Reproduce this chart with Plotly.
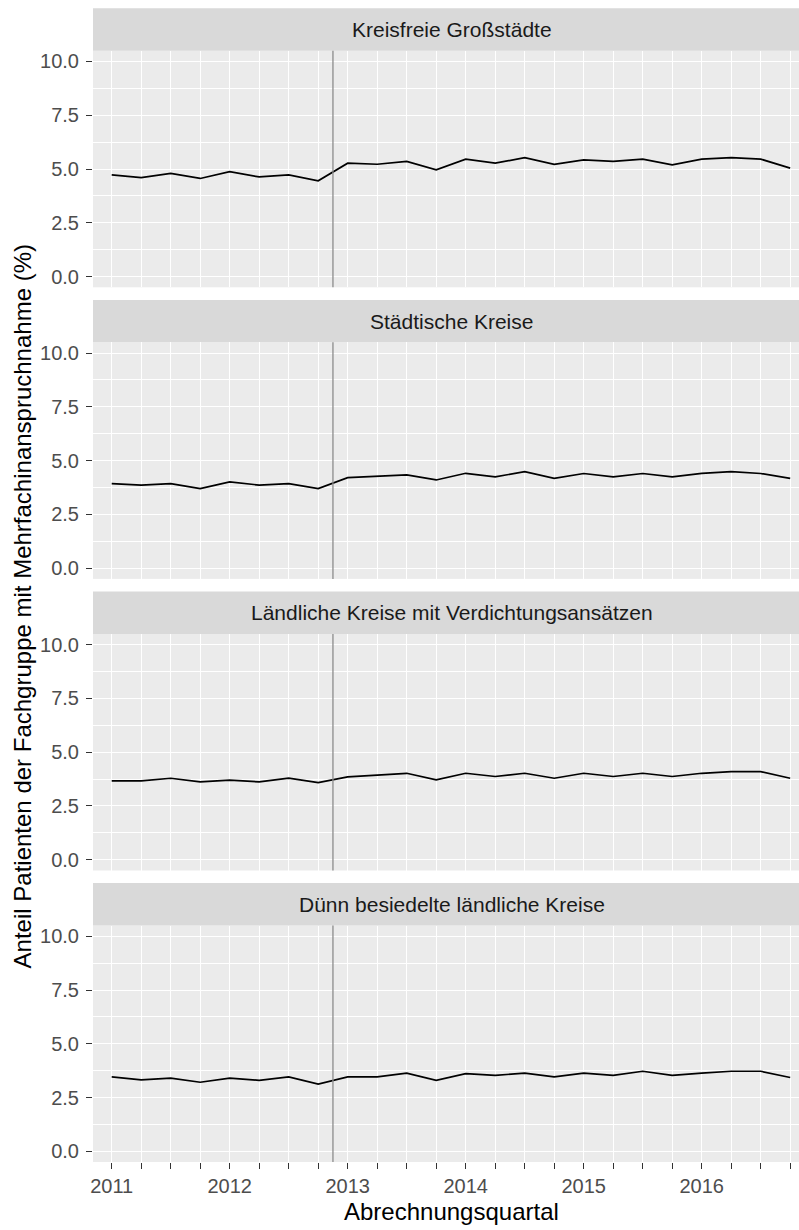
import plotly.graph_objects as go

# ---------------- data ----------------
panel_titles = [
    "Kreisfreie Großstädte",
    "Städtische Kreise",
    "Ländliche Kreise mit Verdichtungsansätzen",
    "Dünn besiedelte ländliche Kreise",
]

quarters = [f"{y}-Q{q}" for y in range(2011, 2017) for q in range(1, 5)]

kreisfreie_grossstaedte = [4.73, 4.60, 4.80, 4.56, 4.88, 4.63, 4.73, 4.45,
                           5.27, 5.22, 5.35, 4.96, 5.46, 5.27, 5.53, 5.22,
                           5.42, 5.35, 5.46, 5.19, 5.46, 5.53, 5.46, 5.04]
staedtische_kreise = [3.93, 3.86, 3.93, 3.70, 4.01, 3.86, 3.93, 3.70,
                      4.21, 4.26, 4.34, 4.10, 4.41, 4.24, 4.49, 4.17,
                      4.40, 4.24, 4.40, 4.24, 4.41, 4.49, 4.40, 4.17]
laendliche_verdichtung = [3.67, 3.67, 3.79, 3.62, 3.70, 3.62, 3.79, 3.59,
                          3.85, 3.94, 4.02, 3.71, 4.02, 3.87, 4.02, 3.79,
                          4.02, 3.87, 4.02, 3.87, 4.02, 4.10, 4.10, 3.79]
duenn_besiedelt = [3.46, 3.32, 3.40, 3.21, 3.40, 3.30, 3.46, 3.12,
                   3.46, 3.46, 3.63, 3.30, 3.61, 3.53, 3.63, 3.46,
                   3.63, 3.53, 3.72, 3.53, 3.63, 3.72, 3.72, 3.43]

series = [kreisfreie_grossstaedte, staedtische_kreise,
          laendliche_verdichtung, duenn_besiedelt]

x_tick_labels = [q.split("-")[0] if q.endswith("Q1") else "" for q in quarters]
y_tick_vals = [0, 2.5, 5, 7.5, 10]
reform_date = 2012.875  # vertical reference line (between 2012-Q4 and 2013-Q1)

y_title = "Anteil Patienten der Fachgruppe mit Mehrfachinanspruchnahme (%)"
x_title = "Abrechnungsquartal"


def qpos(label):
    y, q = label.split("-Q")
    return int(y) + (int(q) - 1) / 4


x_vals = [qpos(q) for q in quarters]

# ---------------- layout geometry (pixels) ----------------
W, H = 799, 1230
ML, MR, MT, MB = 93, 0, 0, 68
PW, PH = W - ML - MR, H - MT - MB
PERIOD = 291.6
STRIP_TOP, PLOT_TOP, PLOT_BOT = 8.3, 50.7, 287.3

FONT = "Liberation Sans, Arial, sans-serif"


def fy(px):
    return min(1.0, max(0.0, 1 - px / PH))


fig = go.Figure()
layout = dict(
    width=W, height=H,
    margin=dict(l=ML, r=MR, t=MT, b=MB, pad=0),
    paper_bgcolor="white", plot_bgcolor="#EBEBEB",
    showlegend=False,
    font=dict(family=FONT, color="#4D4D4D"),
)
shapes, annotations = [], []

x_range = [2011 - (111.7 - ML) / 118.0, 2011 + (W - 111.7) / 118.0]

for k in range(4):
    sfx = "" if k == 0 else str(k + 1)
    top = PLOT_TOP + k * PERIOD
    bot = PLOT_BOT + k * PERIOD
    fig.add_trace(go.Scatter(
        x=x_vals, y=series[k], mode="lines",
        line=dict(color="#000000", width=1.7),
        xaxis="x" + sfx, yaxis="y" + sfx, hoverinfo="skip",
    ))
    last = k == 3
    layout["xaxis" + sfx] = dict(
        domain=[0, 1], anchor="y" + sfx, range=x_range,
        tickmode="array", tickvals=x_vals,
        ticktext=x_tick_labels if last else [""] * len(x_vals),
        showticklabels=last,
        ticks="outside" if last else "", ticklen=6, tickwidth=1.3, tickcolor="#333333",
        showgrid=True, gridcolor="white", gridwidth=1.4,
        zeroline=False, showline=False,
        tickfont=dict(size=20, color="#4D4D4D", family=FONT),
    )
    layout["yaxis" + sfx] = dict(
        domain=[fy(bot), fy(top)], anchor="x" + sfx, range=[-0.5, 10.5],
        tickmode="array", tickvals=y_tick_vals, tickformat=".1f",
        ticks="outside", ticklen=6, tickwidth=1.3, tickcolor="#333333",
        ticklabelstandoff=3,
        showgrid=True, gridcolor="white", gridwidth=1.4,
        minor=dict(tickvals=[1.25, 3.75, 6.25, 8.75], showgrid=True,
                   gridcolor="white", gridwidth=1.0, ticks=""),
        zeroline=False, showline=False,
        tickfont=dict(size=20, color="#4D4D4D", family=FONT),
    )
    # vertical reference line
    shapes.append(dict(type="line", xref="x" + sfx, yref="y" + sfx + " domain",
                       x0=reform_date, x1=reform_date, y0=0, y1=1,
                       line=dict(color="#8C8C8C", width=1.3), layer="above"))
    # strip
    s_top = STRIP_TOP + k * PERIOD
    shapes.append(dict(type="rect", xref="paper", yref="paper",
                       x0=0, x1=1, y0=fy(top), y1=fy(s_top),
                       fillcolor="#D9D9D9", line=dict(width=0), layer="below"))
    annotations.append(dict(
        text=panel_titles[k], xref="paper", yref="paper",
        x=(451.5 - ML) / PW, y=fy((s_top + top) / 2),
        xanchor="center", yanchor="middle", showarrow=False,
        font=dict(size=21, color="#1A1A1A", family=FONT),
    ))

annotations.append(dict(
    text=y_title, xref="paper", yref="paper",
    x=(22 - ML) / PW, y=fy((PLOT_TOP + PLOT_BOT + 3 * PERIOD) / 2),
    xanchor="center", yanchor="middle", textangle=-90, showarrow=False,
    font=dict(size=24, color="#000000", family=FONT),
))
annotations.append(dict(
    text=x_title, xref="paper", yref="paper",
    x=(451.5 - ML) / PW, y=-(1212 - PH) / PH,
    xanchor="center", yanchor="middle", showarrow=False,
    font=dict(size=24, color="#000000", family=FONT),
))

layout["shapes"] = shapes
layout["annotations"] = annotations
fig.update_layout(**layout)
fig.write_html(
    "out.html",
    config={"displayModeBar": False},
    post_script="document.body.style.margin='0';document.body.style.overflow='hidden';",
)
